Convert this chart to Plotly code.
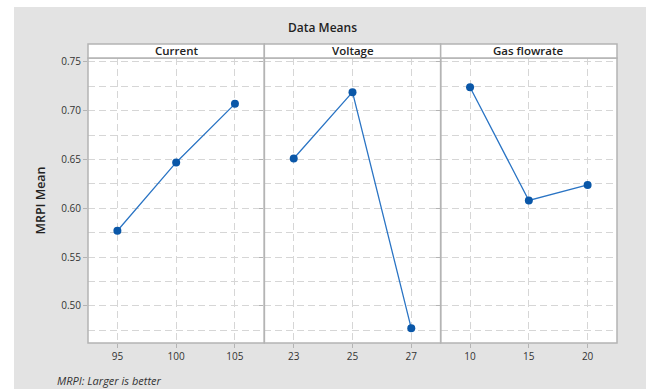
import plotly.graph_objects as go
from plotly.subplots import make_subplots

# Main effects: mean MRPI at each factor level
factors = ["Current", "Voltage", "Gas flowrate"]
current_levels = ["95", "100", "105"]
current_means = [0.577, 0.647, 0.707]
voltage_levels = ["23", "25", "27"]
voltage_means = [0.651, 0.719, 0.477]
gas_levels = ["10", "15", "20"]
gas_means = [0.724, 0.608, 0.624]
overall_mean = 0.641

y_ticks = [0.50, 0.55, 0.60, 0.65, 0.70, 0.75]
y_range = [0.462, 0.754]

W, H = 646, 389
L, R, T, B = 88, 29, 58, 46
PW, PH = W - L - R, H - T - B


def px_x(x):
    return (x - L) / PW


def px_y(y):
    return 1 - (y - T) / PH


fig = make_subplots(rows=1, cols=3, shared_yaxes=True, horizontal_spacing=0)

series = [(current_levels, current_means),
          (voltage_levels, voltage_means),
          (gas_levels, gas_means)]

line_col = "#2a74c4"
mark_col = "#0a57a8"
grid_col = "#d6d6d6"
frame_col = "#b4b4b4"
grid_dash = "7px,4px"
font_fam = "Open Sans, Noto Sans, sans-serif"

for i, (lv, mv) in enumerate(series, start=1):
    fig.add_trace(go.Scatter(
        x=lv, y=mv, mode="lines+markers",
        line=dict(color=line_col, width=1.3),
        marker=dict(color=mark_col, size=8),
        showlegend=False, hoverinfo="x+y"), row=1, col=i)
    # overall mean reference line
    fig.add_trace(go.Scatter(
        x=[-0.5, 2.5], y=[overall_mean, overall_mean], mode="lines",
        line=dict(color="#a8a8a8", width=1.4, dash="7px,4px"),
        showlegend=False, hoverinfo="skip"), row=1, col=i)
    fig.update_xaxes(type="category", categoryorder="array", categoryarray=lv,
                     range=[-0.5, 2.5], showgrid=True, gridcolor=grid_col,
                     griddash=grid_dash, gridwidth=1, zeroline=False,
                     ticks="outside", ticklen=4, tickcolor=frame_col,
                     tickfont=dict(size=10, color="#333333", family=font_fam, weight=500),
                     showline=False, row=1, col=i)

fig.update_yaxes(range=y_range, tickvals=y_ticks,
                 ticktext=[f"{v:.2f}" for v in y_ticks],
                 showgrid=True, gridcolor=grid_col, griddash=grid_dash,
                 zeroline=False, ticks="outside", ticklen=4, tickcolor=frame_col,
                 minor=dict(dtick=0.025, tick0=0.5, showgrid=True,
                            gridcolor=grid_col, griddash=grid_dash, ticks=""),
                 tickfont=dict(size=10, color="#333333", family=font_fam, weight=500),
                 showline=False)
fig.update_yaxes(title=dict(text="MRPI Mean",
                            font=dict(size=12.5, color="#222222", family=font_fam, weight=600),
                            standoff=12), row=1, col=1)

shapes = []
# white margin to the left of and above the grey backdrop
shapes.append(dict(type="rect", xref="paper", yref="paper",
                   x0=px_x(0), x1=px_x(14), y0=px_y(H), y1=px_y(0),
                   fillcolor="white", line=dict(width=0), layer="below"))
shapes.append(dict(type="rect", xref="paper", yref="paper",
                   x0=px_x(0), x1=px_x(W), y0=px_y(7), y1=px_y(0),
                   fillcolor="white", line=dict(width=0), layer="below"))
strip_top = px_y(44)
for i, name in enumerate(factors):
    xd = fig.layout[f"xaxis{'' if i == 0 else i + 1}"].domain
    # panel frame
    shapes.append(dict(type="rect", xref="paper", yref="paper",
                       x0=xd[0], x1=xd[1], y0=0, y1=1,
                       line=dict(color=frame_col, width=1.5), layer="above"))
    # header strip
    shapes.append(dict(type="rect", xref="paper", yref="paper",
                       x0=xd[0], x1=xd[1], y0=1, y1=strip_top,
                       fillcolor="white", line=dict(color=frame_col, width=1.5)))
    fig.add_annotation(x=(xd[0] + xd[1]) / 2, y=(1 + strip_top) / 2,
                       xref="paper", yref="paper", text=name, showarrow=False,
                       font=dict(size=11.5, color="#222222", family=font_fam, weight=600),
                       xanchor="center", yanchor="middle")

fig.add_annotation(x=px_x(322), y=px_y(27), xref="paper", yref="paper",
                   text="Data Means", showarrow=False,
                   font=dict(size=12, color="#222222", family=font_fam, weight=600),
                   xanchor="center", yanchor="middle")
fig.add_annotation(x=px_x(55), y=px_y(380), xref="paper", yref="paper",
                   text="<i>MRPI: Larger is better</i>",
                   showarrow=False, xanchor="left", yanchor="middle",
                   font=dict(size=11, color="#333333", family=font_fam))

fig.update_layout(width=W, height=H, margin=dict(l=L, r=R, t=T, b=B),
                  paper_bgcolor="#e3e3e3", plot_bgcolor="white",
                  shapes=shapes, font=dict(family=font_fam))

fig.write_html("out.html")
